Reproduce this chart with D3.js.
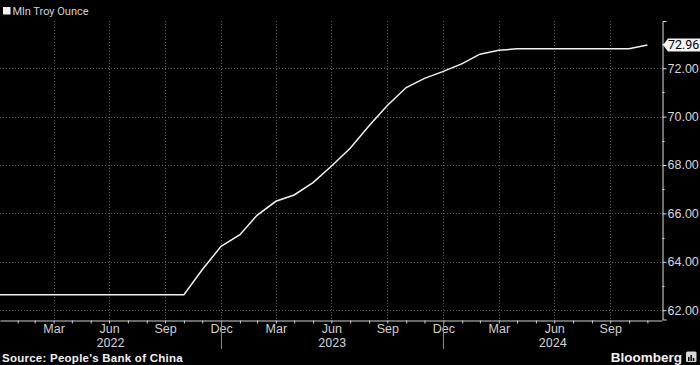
<!DOCTYPE html>
<html>
<head>
<meta charset="utf-8">
<script src="https://cdn.jsdelivr.net/npm/d3@7"></script>
<style>
  body { margin: 0; background: #000; }
  svg { display: block; font-family: "Liberation Sans Narrow", "Roboto", sans-serif; }
</style>
</head>
<body>
<svg></svg>
<script>
// month-end reserves, million troy ounces
const months = ["2021-12","2022-01","2022-02","2022-03","2022-04","2022-05","2022-06",
  "2022-07","2022-08","2022-09","2022-10","2022-11","2022-12",
  "2023-01","2023-02","2023-03","2023-04","2023-05","2023-06",
  "2023-07","2023-08","2023-09","2023-10","2023-11","2023-12",
  "2024-01","2024-02","2024-03","2024-04","2024-05","2024-06",
  "2024-07","2024-08","2024-09","2024-10","2024-11"];
const values = [62.64,62.64,62.64,62.64,62.64,62.64,62.64,
  62.64,62.64,62.64,62.64,63.67,64.64,
  65.12,65.92,66.50,66.76,67.27,67.95,
  68.69,69.62,70.46,71.20,71.58,71.87,
  72.19,72.58,72.74,72.80,72.80,72.80,
  72.80,72.80,72.80,72.80,72.96];
const yTicks = [62, 64, 66, 68, 70, 72];
const yMinor = [63, 65, 67, 69, 71, 73];
const monthLabels = {2: "Mar", 5: "Jun", 8: "Sep", 11: "Dec"};
const years = [2022, 2023, 2024];

const svgWidth = 700;
const svgHeight = 365;
const svg = d3.select("svg")
    .attr("width", svgWidth)
    .attr("height", svgHeight);

const plot = {left: 0, right: 662, top: 21, bottom: 319.5};

const parseMonth = d3.timeParse("%Y-%m");
const monthEnd = d => d3.timeDay.offset(d3.timeMonth.offset(d, 1), -1);

const data = months.map((m, i) => ({date: monthEnd(parseMonth(m)), value: values[i]}));

const x = d3.scaleTime()
    .domain([new Date(2022, 0, 2), new Date(2024, 11, 24)])
    .range([plot.left, plot.right]);

const y = d3.scaleLinear()
    .domain([61.615, 73.95])
    .range([plot.bottom, plot.top]);

// month-end tick dates
const tickDates = d3.timeMonth.range(new Date(2022, 0, 1), new Date(2024, 11, 1))
    .map(monthEnd);
const quarterDates = tickDates.filter(d => monthLabels[d.getMonth()]);

// gridlines
const grid = svg.append("g")
    .attr("stroke", "#5a5a5a")
    .attr("stroke-width", 1)
    .attr("stroke-dasharray", "1,2");

grid.selectAll("line.h")
    .data(yTicks)
    .enter().append("line")
    .attr("x1", plot.left)
    .attr("x2", plot.right)
    .attr("y1", d => Math.round(y(d)) + 0.5)
    .attr("y2", d => Math.round(y(d)) + 0.5);

grid.selectAll("line.v")
    .data(quarterDates)
    .enter().append("line")
    .attr("x1", d => Math.round(x(d)) + 0.5)
    .attr("x2", d => Math.round(x(d)) + 0.5)
    .attr("y1", plot.top)
    .attr("y2", plot.bottom);

// the line
const line = d3.line()
    .x(d => x(d.date))
    .y(d => y(d.value));

svg.append("path")
    .datum(data)
    .attr("fill", "none")
    .attr("stroke", "#f2f2f2")
    .attr("stroke-width", 1.5)
    .attr("d", line);

// x axis
const xAxis = svg.append("g")
    .attr("transform", "translate(0," + (Math.round(plot.bottom) + 0.5) + ")")
    .call(d3.axisBottom(x)
        .tickValues(tickDates)
        .tickSize(3)
        .tickSizeOuter(0)
        .tickFormat(d => monthLabels[d.getMonth()] || ""));

xAxis.select(".domain").attr("stroke", "#d0d0d0");
xAxis.selectAll(".tick line").attr("stroke", "#d0d0d0");
xAxis.selectAll(".tick text")
    .attr("fill", "#d0d0d0")
    .attr("font-size", 12.5)
    .attr("y", 12.5)
    .attr("dy", 0);

// year separators and labels
const yearEnds = years.map(yr => new Date(yr, 11, 31)).filter(d => x(d) < plot.right);
svg.append("g")
    .selectAll("line")
    .data(yearEnds)
    .enter().append("line")
    .attr("x1", d => Math.round(x(d)) + 0.5)
    .attr("x2", d => Math.round(x(d)) + 0.5)
    .attr("y1", plot.bottom + 1)
    .attr("y2", 349)
    .attr("stroke", "#8a8a8a");

svg.append("g")
    .selectAll("text")
    .data(years)
    .enter().append("text")
    .attr("x", yr => {
        const a = Math.max(plot.left, x(new Date(yr - 1, 11, 31)));
        const b = Math.min(plot.right, x(new Date(yr, 11, 31)));
        return (a + b) / 2;
    })
    .attr("y", 346.5)
    .attr("text-anchor", "middle")
    .attr("fill", "#d0d0d0")
    .attr("font-size", 12.5)
    .text(d => d);

// y axis (right)
const yAxis = svg.append("g")
    .attr("transform", "translate(" + (plot.right + 0.5) + ",0)")
    .call(d3.axisRight(y)
        .tickValues(yTicks)
        .tickSize(4)
        .tickPadding(1)
        .tickFormat(d3.format(".2f")));

yAxis.select(".domain").attr("stroke", "#e0e0e0");
yAxis.selectAll(".tick line").attr("stroke", "#e0e0e0");
yAxis.selectAll(".tick text")
    .attr("fill", "#d8d8d8")
    .attr("font-size", 12.5);

yAxis.selectAll("line.minor")
    .data(yMinor.filter(v => y(v) > plot.top))
    .enter().append("line")
    .attr("class", "minor")
    .attr("x1", 0)
    .attr("x2", 2)
    .attr("y1", d => Math.round(y(d)) + 0.5)
    .attr("y2", d => Math.round(y(d)) + 0.5)
    .attr("stroke", "#e0e0e0");

// last value callout
const last = data[data.length - 1];
const ly = y(last.value);
const callout = svg.append("g")
    .attr("transform", "translate(" + (plot.right + 1) + "," + ly + ")");

callout.append("path")
    .attr("d", "M0,0 L5,-6.5 L40,-6.5 L40,6.5 L5,6.5 Z")
    .attr("fill", "#f4f4f4");

callout.append("text")
    .attr("x", 5)
    .attr("y", 0)
    .attr("dy", "0.36em")
    .attr("fill", "#000")
    .attr("font-size", 12.5)
    .text(d3.format(".2f")(last.value));

// legend
svg.append("rect")
    .attr("x", 3)
    .attr("y", 7)
    .attr("width", 7.5)
    .attr("height", 7.5)
    .attr("fill", "#f2f2f2");

svg.append("text")
    .attr("x", 12.5)
    .attr("y", 15)
    .attr("fill", "#d0d0d0")
    .attr("font-size", 11)
    .text("Mln Troy Ounce");

// footer
svg.append("text")
    .attr("x", 2)
    .attr("y", 361.5)
    .attr("fill", "#f2f2f2")
    .style("font-family", "'Liberation Sans', sans-serif")
    .style("font-weight", "bold")
    .style("font-size", "11.5px")
    .style("letter-spacing", "0.25px")
    .text("Source: People's Bank of China");

svg.append("text")
    .attr("x", 682)
    .attr("y", 362)
    .attr("text-anchor", "end")
    .attr("fill", "#f2f2f2")
    .style("font-family", "'Liberation Sans', sans-serif")
    .style("font-weight", "bold")
    .style("font-size", "13.5px")
    .text("Bloomberg");

// little logo box
const logo = svg.append("g").attr("transform", "translate(686,351.5)");
logo.append("rect")
    .attr("width", 10.5)
    .attr("height", 10.5)
    .attr("rx", 1.5)
    .attr("fill", "#d8d8d8");
logo.selectAll("rect.bar")
    .data([4, 6, 3])
    .enter().append("rect")
    .attr("class", "bar")
    .attr("x", (d, i) => 2 + i * 2.4)
    .attr("y", d => 9.5 - d)
    .attr("width", 1.5)
    .attr("height", d => d)
    .attr("fill", "#000");
</script>
</body>
</html>
